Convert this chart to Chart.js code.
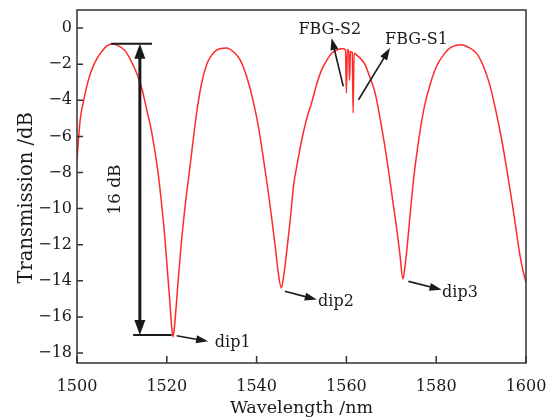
<!DOCTYPE html>
<html>
<head>
<meta charset="utf-8">
<script src="https://cdn.jsdelivr.net/npm/chart.js@4/dist/chart.umd.min.js"></script>
<style>
  html, body { margin: 0; padding: 0; background: #fff; }
  #wrap { width: 556px; height: 419px; }
</style>
</head>
<body>
<div id="wrap"><canvas id="chart" width="556" height="419"></canvas></div>
<script>
// Data
const wavelength = [
  1500.0, 1500.7, 1501.5, 1502.2, 1503.0, 1504.0, 1505.2, 1506.6, 1507.8, 1509.0,
  1510.7, 1512.0, 1513.3, 1514.5, 1515.5, 1516.5, 1517.4, 1518.2, 1518.9, 1519.5,
  1520.0, 1520.6, 1521.1, 1521.4, 1521.8, 1522.4, 1523.2, 1524.2, 1525.2, 1526.7,
  1527.8, 1528.9, 1530.0, 1531.1, 1533.3, 1535.0, 1536.3, 1537.8, 1539.3, 1540.5,
  1541.5, 1542.5, 1543.4, 1544.2, 1544.8, 1545.5, 1546.0, 1546.7, 1547.5, 1548.2,
  1549.2, 1550.4, 1551.3, 1552.3, 1553.4, 1554.5, 1555.6, 1556.7, 1558.0, 1559.2,
  1559.8, 1560.0, 1560.2, 1560.5, 1560.7, 1560.9, 1561.3, 1561.5, 1561.7, 1562.3,
  1563.2, 1564.1, 1565.2, 1566.4, 1567.5, 1568.6, 1569.5, 1570.4, 1571.2, 1571.9,
  1572.6, 1573.0, 1573.5, 1574.2, 1575.0, 1575.7, 1576.6, 1577.5, 1578.8, 1580.1,
  1581.6, 1583.1, 1585.7, 1587.4, 1589.0, 1590.5, 1592.0, 1593.3, 1594.6, 1595.7,
  1596.8, 1597.7, 1598.6, 1599.3, 1600.0
]
const transmission = [
  -7.3, -5.1, -4.0, -3.2, -2.5, -1.9, -1.4, -1.0, -0.88, -0.95,
  -1.25, -1.8, -2.5, -3.4, -4.5, -5.6, -6.9, -8.3, -9.9, -11.4,
  -13.0, -14.9, -16.6, -17.1, -16.3, -14.4, -12.0, -9.6, -7.6, -4.6,
  -3.0, -2.0, -1.5, -1.22, -1.1, -1.35, -1.75, -2.7, -4.1, -5.6,
  -7.2, -8.9, -10.6, -12.2, -13.5, -14.4, -13.8, -12.4, -10.6, -8.8,
  -7.3, -5.8, -4.9, -4.1, -3.1, -2.3, -1.8, -1.4, -1.2, -1.15,
  -1.2, -3.6, -1.2, -1.25, -2.9, -1.3, -1.35, -4.7, -1.4, -1.5,
  -1.7, -2.0, -2.7, -3.6, -5.0, -6.6, -8.1, -9.7, -11.1, -12.5,
  -13.9, -13.3, -12.2, -10.3, -8.3, -6.9, -5.4, -4.2, -3.0, -2.1,
  -1.5, -1.1, -0.92, -1.1, -1.4, -2.1, -3.2, -4.6, -6.2, -7.8,
  -9.5, -11.0, -12.5, -13.4, -14.1
]
const xTicks = [1500, 1520, 1540, 1560, 1580, 1600]
const yTicks = [-18, -16, -14, -12, -10, -8, -6, -4, -2, 0]

const FONT = 'DejaVu Serif'
const INK = '#1a1a1a'

// Annotations (data coordinates)
const arrows = [
  { from: [1522.2, -17.04], to: [1529.2, -17.35] },
  { from: [1546.3, -14.58], to: [1553.4, -15.04] },
  { from: [1573.8, -14.03], to: [1581.2, -14.49] },
  { from: [1559.3, -3.23], to: [1556.7, -0.55] },
  { from: [1562.7, -3.97], to: [1569.7, -1.11] }
]
const labels = [
  { text: 'dip1', at: [1530.7, -17.43], align: 'left' },
  { text: 'dip2', at: [1553.7, -15.14], align: 'left' },
  { text: 'dip3', at: [1581.3, -14.66], align: 'left' },
  { text: 'FBG-S2', at: [1556.3, -0.1], align: 'center' },
  { text: 'FBG-S1', at: [1575.6, -0.65], align: 'center' }
]

function arrowHead(ctx, x1, y1, x2, y2, len, half) {
  const a = Math.atan2(y2 - y1, x2 - x1)
  ctx.beginPath()
  ctx.moveTo(x2, y2)
  ctx.lineTo(x2 - len * Math.cos(a) + half * Math.sin(a), y2 - len * Math.sin(a) - half * Math.cos(a))
  ctx.lineTo(x2 - len * Math.cos(a) - half * Math.sin(a), y2 - len * Math.sin(a) + half * Math.cos(a))
  ctx.closePath()
  ctx.fill()
}

// Frame, inward ticks, y title and annotations
const decor = {
  id: 'decor',
  afterDraw(chart) {
    const { ctx, chartArea: ca, scales: { x, y } } = chart
    ctx.save()
    ctx.strokeStyle = '#333'
    ctx.lineWidth = 1.5
    ctx.strokeRect(ca.left, ca.top, ca.right - ca.left, ca.bottom - ca.top)
    ctx.beginPath()
    yTicks.forEach(v => {
      const py = y.getPixelForValue(v)
      ctx.moveTo(ca.left, py)
      ctx.lineTo(ca.left + 6, py)
    })
    xTicks.forEach(v => {
      const px = x.getPixelForValue(v)
      ctx.moveTo(px, ca.bottom)
      ctx.lineTo(px, ca.bottom - 7)
    })
    ctx.stroke()

    const X = v => x.getPixelForValue(v)
    const Y = v => y.getPixelForValue(v)
    ctx.strokeStyle = INK
    ctx.fillStyle = INK

    // y axis title (sits a little below the plot centre in the original)
    ctx.save()
    ctx.translate(27, Y(-9.4))
    ctx.rotate(-Math.PI / 2)
    ctx.font = '19.5px ' + FONT
    ctx.textAlign = 'center'
    ctx.textBaseline = 'middle'
    ctx.fillText('Transmission /dB', 0, 0)
    ctx.restore()

    // 16 dB bars and double arrow
    ctx.lineWidth = 2
    ctx.beginPath()
    ctx.moveTo(X(1507.6), Y(-0.87)); ctx.lineTo(X(1516.7), Y(-0.87))
    ctx.moveTo(X(1512.5), Y(-17.0)); ctx.lineTo(X(1521.1), Y(-17.0))
    ctx.stroke()
    const ax = X(1514.0), ay1 = Y(-0.87), ay2 = Y(-17.0)
    ctx.lineWidth = 3
    ctx.beginPath()
    ctx.moveTo(ax, ay1 + 12); ctx.lineTo(ax, ay2 - 12)
    ctx.stroke()
    arrowHead(ctx, ax, ay2, ax, ay1, 15, 5.5)
    arrowHead(ctx, ax, ay1, ax, ay2, 15, 5.5)

    ctx.save()
    ctx.translate(X(1508.5), Y(-8.95))
    ctx.rotate(-Math.PI / 2)
    ctx.font = '17px ' + FONT
    ctx.textAlign = 'center'
    ctx.textBaseline = 'middle'
    ctx.fillText('16 dB', 0, 0)
    ctx.restore()

    // thin arrows
    ctx.lineWidth = 1.6
    arrows.forEach(a => {
      const x1 = X(a.from[0]), y1 = Y(a.from[1]), x2 = X(a.to[0]), y2 = Y(a.to[1])
      const ang = Math.atan2(y2 - y1, x2 - x1)
      ctx.beginPath()
      ctx.moveTo(x1, y1)
      ctx.lineTo(x2 - 8 * Math.cos(ang), y2 - 8 * Math.sin(ang))
      ctx.stroke()
      arrowHead(ctx, x1, y1, x2, y2, 12, 4)
    })

    ctx.font = '16px ' + FONT
    ctx.textBaseline = 'middle'
    labels.forEach(l => {
      ctx.textAlign = l.align
      ctx.fillText(l.text, X(l.at[0]), Y(l.at[1]))
    })
    ctx.restore()
  }
}

const points = wavelength.map((w, i) => ({ x: w, y: transmission[i] }))

new Chart(document.getElementById('chart'), {
  type: 'line',
  data: {
    datasets: [{
      data: points,
      borderColor: '#ff2a2a',
      borderWidth: 1.5,
      pointRadius: 0,
      cubicInterpolationMode: 'monotone',
      fill: false
    }]
  },
  options: {
    responsive: false,
    animation: false,
    events: [],
    layout: { padding: { left: 0, right: 30, top: 10, bottom: 0 } },
    plugins: { legend: { display: false }, tooltip: { enabled: false } },
    scales: {
      x: {
        type: 'linear',
        min: 1500,
        max: 1600,
        afterBuildTicks: s => { s.ticks = xTicks.map(v => ({ value: v })) },
        afterFit: s => { s.height = 56; s.paddingLeft = 0; s.paddingRight = 0 },
        grid: { display: false, drawTicks: false },
        border: { display: false },
        ticks: { color: INK, font: { family: FONT, size: 16 }, padding: 14, maxRotation: 0, callback: v => String(v) },
        title: { display: true, text: 'Wavelength /nm', color: INK, font: { family: FONT, size: 17.5 }, padding: { top: 0, bottom: 0 } }
      },
      y: {
        min: -18.55,
        max: 1,
        afterBuildTicks: s => { s.ticks = yTicks.map(v => ({ value: v })) },
        afterFit: s => { s.width = 77; s.paddingTop = 0; s.paddingBottom = 0 },
        grid: { display: false, drawTicks: false },
        border: { display: false },
        ticks: {
          color: INK,
          font: { family: FONT, size: 16 },
          padding: 5,
          callback: v => String(v).replace('-', '\u2212')
        },
        title: { display: false }
      }
    }
  },
  plugins: [decor]
})
</script>
</body>
</html>
